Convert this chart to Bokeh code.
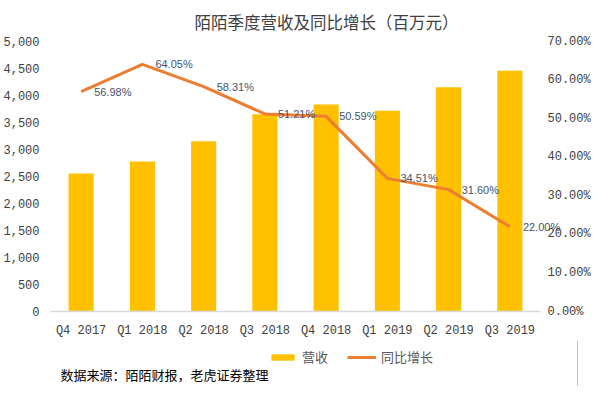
from bokeh.plotting import figure
from bokeh.layouts import column
from bokeh.models import (Range1d, LinearAxis, FixedTicker, NumeralTickFormatter,
                          ColumnDataSource, Legend, LegendItem, Label)
from bokeh.core.properties import value
from bokeh.embed import file_html
from bokeh.resources import INLINE

quarters = ["Q4 2017", "Q1 2018", "Q2 2018", "Q3 2018", "Q4 2018", "Q1 2019", "Q2 2019", "Q3 2019"]
revenue = [2556, 2778, 3154, 3654, 3833, 3717, 4154, 4457]
growth = [0.5698, 0.6405, 0.5831, 0.5121, 0.5059, 0.3451, 0.3160, 0.2200]
growth_labels = ["56.98%", "64.05%", "58.31%", "51.21%", "50.59%", "34.51%", "31.60%", "22.00%"]
left_ticks = [0, 500, 1000, 1500, 2000, 2500, 3000, 3500, 4000, 4500, 5000]
right_ticks = [0, 0.1, 0.2, 0.3, 0.4, 0.5, 0.6, 0.7]

title_text = "陌陌季度营收及同比增长（百万元）"
source_text = "数据来源：陌陌财报，老虎证券整理"
bar_name = "营收"
line_name = "同比增长"

BAR_COLOR = "#FFC000"
LINE_COLOR = "#ED7D31"

xs = list(range(len(quarters)))
src = ColumnDataSource(dict(x=xs, q=quarters, rev=revenue, g=growth, gl=growth_labels))

n = len(quarters)
FW, FH = 536, 270
x_end = -0.5 + n * FW / 490
p = figure(frame_width=FW, frame_height=FH,
           x_range=Range1d(-0.5, x_end),
           y_range=Range1d(0, 5000), output_backend="svg", toolbar_location=None,
           min_border_left=44, min_border_right=0, min_border_top=35, min_border_bottom=0)
p.extra_y_ranges = {"pct": Range1d(0, 0.7)}
p.outline_line_color = None
p.xgrid.visible = False
p.ygrid.visible = False
p.background_fill_color = "white"
p.border_fill_color = "white"

tick_font = "Liberation Mono"
tick_color = "#404040"

p.title.text = title_text
p.title.align = "left"
p.title.offset = 144
p.title.text_font = "Noto Sans CJK SC"
p.title.text_font_size = "16.5px"
p.title.text_font_style = "normal"
p.title.text_color = "#404040"
p.title.standoff = 15

ya = p.yaxis[0]
ya.ticker = FixedTicker(ticks=left_ticks)
ya.formatter = NumeralTickFormatter(format="0,0")
ya.axis_line_color = None
ya.major_tick_line_color = None
ya.minor_tick_line_color = None
ya.major_tick_out = 0
ya.major_tick_in = 0
ya.major_label_standoff = 11
ya.major_label_text_font = tick_font
ya.major_label_text_font_size = "12px"
ya.major_label_text_color = tick_color

ra = LinearAxis(y_range_name="pct", ticker=FixedTicker(ticks=right_ticks),
                formatter=NumeralTickFormatter(format="0.00%"))
ra.axis_line_color = None
ra.major_tick_line_color = None
ra.minor_tick_line_color = None
ra.major_tick_out = 0
ra.major_tick_in = 0
ra.major_label_standoff = -39
ra.major_label_text_font = tick_font
ra.major_label_text_font_size = "12px"
ra.major_label_text_color = tick_color
p.add_layout(ra, "right")

xa = p.xaxis[0]
xa.ticker = FixedTicker(ticks=xs)
xa.major_label_overrides = {i: q for i, q in zip(xs, quarters)}
xa.bounds = (-0.5, n - 0.5)
xa.axis_line_color = "#D9D9D9"
xa.axis_line_width = 1.5
xa.major_tick_line_color = None
xa.minor_tick_line_color = None
xa.major_tick_out = 0
xa.major_tick_in = 0
xa.major_label_standoff = 12
xa.major_label_text_font = tick_font
xa.major_label_text_font_size = "12px"
xa.major_label_text_color = tick_color

p.vbar(x="x", top="rev", width=0.41, source=src, fill_color=BAR_COLOR, line_color=None)
p.line(x="x", y="g", source=src, y_range_name="pct", line_color=LINE_COLOR, line_width=3)
p.text(x="x", y="g", text="gl", source=src, y_range_name="pct", x_offset=13,
       text_baseline="middle", text_align="left", text_font=value("Liberation Sans"),
       text_font_size="11px", text_color="#44546A")

# footer figure: legend and source note (its ranges keep the series out of view,
# the renderers only supply the legend swatches)
p2 = figure(width=584, height=46, x_range=Range1d(-3, -2), y_range=Range1d(0, 1),
            output_backend="svg", toolbar_location=None,
            x_axis_location=None, y_axis_location=None, min_border=0)
p2.outline_line_color = None
p2.xgrid.visible = False
p2.ygrid.visible = False
p2.background_fill_color = "white"
p2.border_fill_color = "white"
leg_bar = p2.vbar(x="x", top="rev", width=0.41, source=src, fill_color=BAR_COLOR, line_color=None)
leg_line = p2.line(x="x", y="g", source=src, line_color=LINE_COLOR, line_width=3)

legend = Legend(items=[LegendItem(label=bar_name, renderers=[leg_bar]),
                       LegendItem(label=line_name, renderers=[leg_line])],
                orientation="horizontal", location=(218, 20),
                glyph_width=29, glyph_height=8, label_height=16, label_standoff=5,
                spacing=19, padding=0, margin=0, border_line_color=None,
                background_fill_alpha=0,
                label_text_font="Noto Sans CJK SC", label_text_font_size="13px",
                label_text_color="#595959")
p2.add_layout(legend, "center")
p2.add_layout(Label(x=10, y=12, x_units="screen", y_units="screen", text=source_text,
                    text_align="left", text_baseline="middle", text_font="Noto Sans CJK SC",
                    text_font_size="13px", text_color="#000000"))

layout = column(p, p2, spacing=0)
open("out.html", "w").write(file_html(layout, INLINE))
